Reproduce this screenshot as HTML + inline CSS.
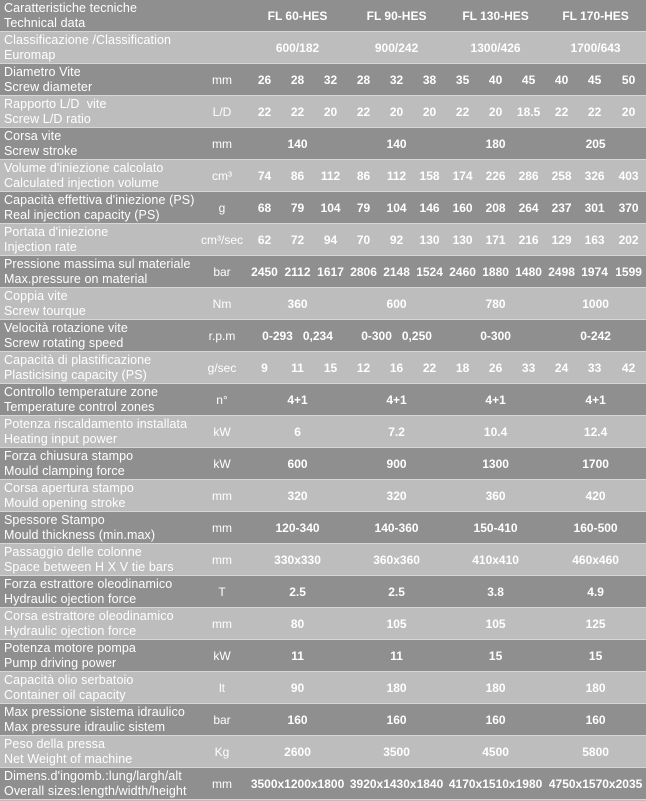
<!DOCTYPE html>
<html><head><meta charset="utf-8"><style>
html,body{margin:0;padding:0;width:646px;height:801px;overflow:hidden;background:#bdbdbd}
table{border-collapse:collapse;table-layout:fixed;width:646px;font-family:"Liberation Sans",Arial,sans-serif;color:#fff}
td{height:31px;padding:0;border-bottom:1px solid #d6d6d6;text-align:center;font-size:12px;font-weight:bold;white-space:nowrap;overflow:hidden}
td.l{text-align:left;padding-left:4px;font-weight:normal;font-size:12.5px;line-height:15px;letter-spacing:0.1px}
td.u{font-weight:normal}
tr.d td{background:#8f8f8f}
tr.g td{background:#bdbdbd}
</style></head><body>
<table>
<colgroup><col style="width:196px"><col style="width:52px"><col span="11" style="width:33px"><col style="width:35px"></colgroup>
<tr class="d"><td class="l" colspan="2">Caratteristiche tecniche<br>Technical data</td><td colspan="3">FL 60-HES</td><td colspan="3">FL 90-HES</td><td colspan="3">FL 130-HES</td><td colspan="3">FL 170-HES</td></tr>
<tr class="g"><td class="l" colspan="2">Classificazione /Classification<br>Euromap</td><td colspan="3">600/182</td><td colspan="3">900/242</td><td colspan="3">1300/426</td><td colspan="3">1700/643</td></tr>
<tr class="d"><td class="l">Diametro Vite<br>Screw diameter</td><td class="u">mm</td><td>26</td><td>28</td><td>32</td><td>28</td><td>32</td><td>38</td><td>35</td><td>40</td><td>45</td><td>40</td><td>45</td><td>50</td></tr>
<tr class="g"><td class="l">Rapporto L/D &nbsp;vite<br>Screw L/D ratio</td><td class="u">L/D</td><td>22</td><td>22</td><td>20</td><td>22</td><td>20</td><td>20</td><td>22</td><td>20</td><td>18.5</td><td>22</td><td>22</td><td>20</td></tr>
<tr class="d"><td class="l">Corsa vite<br>Screw stroke</td><td class="u">mm</td><td colspan="3">140</td><td colspan="3">140</td><td colspan="3">180</td><td colspan="3">205</td></tr>
<tr class="g"><td class="l">Volume d'iniezione calcolato<br>Calculated injection volume</td><td class="u">cm³</td><td>74</td><td>86</td><td>112</td><td>86</td><td>112</td><td>158</td><td>174</td><td>226</td><td>286</td><td>258</td><td>326</td><td>403</td></tr>
<tr class="d"><td class="l">Capacità effettiva d'iniezione (PS)<br>Real injection capacity (PS)</td><td class="u">g</td><td>68</td><td>79</td><td>104</td><td>79</td><td>104</td><td>146</td><td>160</td><td>208</td><td>264</td><td>237</td><td>301</td><td>370</td></tr>
<tr class="g"><td class="l">Portata d'iniezione<br>Injection rate</td><td class="u">cm³/sec</td><td>62</td><td>72</td><td>94</td><td>70</td><td>92</td><td>130</td><td>130</td><td>171</td><td>216</td><td>129</td><td>163</td><td>202</td></tr>
<tr class="d"><td class="l">Pressione massima sul materiale<br>Max.pressure on material</td><td class="u">bar</td><td>2450</td><td>2112</td><td>1617</td><td>2806</td><td>2148</td><td>1524</td><td>2460</td><td>1880</td><td>1480</td><td>2498</td><td>1974</td><td>1599</td></tr>
<tr class="g"><td class="l">Coppia vite<br>Screw tourque</td><td class="u">Nm</td><td colspan="3">360</td><td colspan="3">600</td><td colspan="3">780</td><td colspan="3">1000</td></tr>
<tr class="d"><td class="l">Velocità rotazione vite<br>Screw rotating speed</td><td class="u">r.p.m</td><td colspan="3">0-293&nbsp;&nbsp;&nbsp;0,234</td><td colspan="3">0-300&nbsp;&nbsp;&nbsp;0,250</td><td colspan="3">0-300</td><td colspan="3">0-242</td></tr>
<tr class="g"><td class="l">Capacità di plastificazione<br>Plasticising capacity (PS)</td><td class="u">g/sec</td><td>9</td><td>11</td><td>15</td><td>12</td><td>16</td><td>22</td><td>18</td><td>26</td><td>33</td><td>24</td><td>33</td><td>42</td></tr>
<tr class="d"><td class="l">Controllo temperature zone<br>Temperature control zones</td><td class="u">n°</td><td colspan="3">4+1</td><td colspan="3">4+1</td><td colspan="3">4+1</td><td colspan="3">4+1</td></tr>
<tr class="g"><td class="l">Potenza riscaldamento installata<br>Heating input power</td><td class="u">kW</td><td colspan="3">6</td><td colspan="3">7.2</td><td colspan="3">10.4</td><td colspan="3">12.4</td></tr>
<tr class="d"><td class="l">Forza chiusura stampo<br>Mould clamping force</td><td class="u">kW</td><td colspan="3">600</td><td colspan="3">900</td><td colspan="3">1300</td><td colspan="3">1700</td></tr>
<tr class="g"><td class="l">Corsa apertura stampo<br>Mould opening stroke</td><td class="u">mm</td><td colspan="3">320</td><td colspan="3">320</td><td colspan="3">360</td><td colspan="3">420</td></tr>
<tr class="d"><td class="l">Spessore Stampo<br>Mould thickness (min.max)</td><td class="u">mm</td><td colspan="3">120-340</td><td colspan="3">140-360</td><td colspan="3">150-410</td><td colspan="3">160-500</td></tr>
<tr class="g"><td class="l">Passaggio delle colonne<br>Space between H X V tie bars</td><td class="u">mm</td><td colspan="3">330x330</td><td colspan="3">360x360</td><td colspan="3">410x410</td><td colspan="3">460x460</td></tr>
<tr class="d"><td class="l">Forza estrattore oleodinamico<br>Hydraulic ojection force</td><td class="u">T</td><td colspan="3">2.5</td><td colspan="3">2.5</td><td colspan="3">3.8</td><td colspan="3">4.9</td></tr>
<tr class="g"><td class="l">Corsa estrattore oleodinamico<br>Hydraulic ojection force</td><td class="u">mm</td><td colspan="3">80</td><td colspan="3">105</td><td colspan="3">105</td><td colspan="3">125</td></tr>
<tr class="d"><td class="l">Potenza motore pompa<br>Pump driving power</td><td class="u">kW</td><td colspan="3">11</td><td colspan="3">11</td><td colspan="3">15</td><td colspan="3">15</td></tr>
<tr class="g"><td class="l">Capacità olio serbatoio<br>Container oil capacity</td><td class="u">lt</td><td colspan="3">90</td><td colspan="3">180</td><td colspan="3">180</td><td colspan="3">180</td></tr>
<tr class="d"><td class="l">Max pressione sistema idraulico<br>Max pressure idraulic sistem</td><td class="u">bar</td><td colspan="3">160</td><td colspan="3">160</td><td colspan="3">160</td><td colspan="3">160</td></tr>
<tr class="g"><td class="l">Peso della pressa<br>Net Weight of machine</td><td class="u">Kg</td><td colspan="3">2600</td><td colspan="3">3500</td><td colspan="3">4500</td><td colspan="3">5800</td></tr>
<tr class="d"><td class="l">Dimens.d'ingomb.:lung/largh/alt<br>Overall sizes:length/width/height</td><td class="u">mm</td><td colspan="3">3500x1200x1800</td><td colspan="3">3920x1430x1840</td><td colspan="3">4170x1510x1980</td><td colspan="3">4750x1570x2035</td></tr>
</table>
</body></html>
